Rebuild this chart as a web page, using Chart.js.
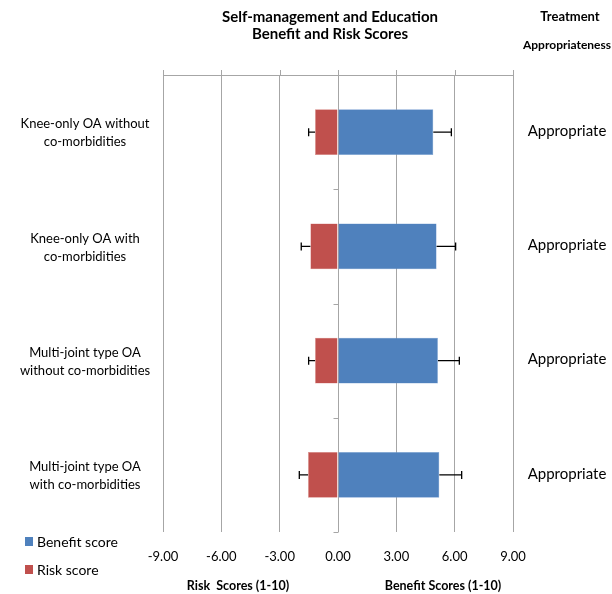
<!DOCTYPE html>
<html>
<head>
<meta charset="utf-8">
<script src="https://cdn.jsdelivr.net/npm/chart.js@4.4.1/dist/chart.umd.min.js"></script>
<style>
  html, body { margin: 0; padding: 0; background: #fff; }
  #wrap { width: 612px; height: 594px; }
</style>
</head>
<body>
<div id="wrap"><canvas id="chart" width="612" height="594"></canvas></div>
<script>
// data
const categories = [
  ['Knee-only OA without', 'co-morbidities'],
  ['Knee-only OA with', 'co-morbidities'],
  ['Multi-joint type OA', 'without co-morbidities'],
  ['Multi-joint type OA', 'with co-morbidities']
];
const benefitScores = [4.90, 5.07, 5.14, 5.21];
const benefitErrors = [0.93, 0.98, 1.10, 1.15];
const riskScores = [-1.18, -1.42, -1.18, -1.54];
const riskErrors = [0.33, 0.47, 0.33, 0.45];
const appropriateness = ['Appropriate', 'Appropriate', 'Appropriate', 'Appropriate'];
const xTicks = [-9, -6, -3, 0, 3, 6, 9];

const FONT = 'Lato, "Open Sans", sans-serif';
const gridColor = '#a6a6a6';

// error bars + all the loose text around the plot
const extras = {
  id: 'extras',
  afterDatasetsDraw(chart) {
    const { ctx, chartArea, scales } = chart;
    const x = scales.x, y = scales.y;
    ctx.save();

    // error bars
    ctx.strokeStyle = '#000';
    ctx.lineWidth = 1.3;
    const drawErr = (from, to, yc) => {
      const a = x.getPixelForValue(from), b = x.getPixelForValue(to);
      ctx.beginPath();
      ctx.moveTo(a, yc); ctx.lineTo(b, yc);
      ctx.moveTo(b, yc - 4); ctx.lineTo(b, yc + 4);
      ctx.stroke();
    };
    categories.forEach((c, i) => {
      const yc = y.getPixelForValue(i);
      drawErr(benefitScores[i], benefitScores[i] + benefitErrors[i], yc);
      drawErr(riskScores[i], riskScores[i] - riskErrors[i], yc);
    });

    // top line with little ticks above it
    ctx.strokeStyle = gridColor;
    ctx.lineWidth = 1;
    ctx.beginPath();
    ctx.moveTo(chartArea.left, chartArea.top + 0.5);
    ctx.lineTo(chartArea.right, chartArea.top + 0.5);
    xTicks.forEach(v => {
      const px = Math.round(x.getPixelForValue(v)) + 0.5;
      ctx.moveTo(px, chartArea.top - 5);
      ctx.lineTo(px, chartArea.top);
    });
    // category ticks on the zero axis
    const x0 = Math.round(x.getPixelForValue(0)) + 0.5;
    const step = y.getPixelForValue(1) - y.getPixelForValue(0);
    for (let i = 0; i < categories.length; i++) {
      const yb = Math.round(y.getPixelForValue(i) + step / 2) + 0.5;
      ctx.moveTo(x0 - 5, yb);
      ctx.lineTo(x0, yb);
    }
    ctx.stroke();

    // category labels
    ctx.fillStyle = '#000';
    ctx.textAlign = 'center';
    ctx.textBaseline = 'middle';
    ctx.font = '13px ' + FONT;
    categories.forEach((lines, i) => {
      const yc = y.getPixelForValue(i);
      lines.forEach((t, k) => ctx.fillText(t, 85, yc - 8 + k * 18));
    });

    // appropriateness column
    ctx.font = '15px ' + FONT;
    appropriateness.forEach((t, i) => ctx.fillText(t, 567, y.getPixelForValue(i) - 1));

    // titles
    ctx.font = 'bold 15px ' + FONT;
    ctx.fillText('Self-management and Education', 330, 17);
    ctx.fillText('Benefit and Risk Scores', 330, 34);
    ctx.font = 'bold 13px ' + FONT;
    ctx.fillText('Treatment', 570, 17);
    ctx.font = 'bold 12px ' + FONT;
    ctx.fillText('Appropriateness', 567, 45);

    // axis titles
    ctx.font = 'bold 12.5px ' + FONT;
    ctx.fillText('Risk  Scores (1-10)', 238, 586);
    ctx.fillText('Benefit Scores (1-10)', 443, 586);

    // legend
    ctx.textAlign = 'left';
    ctx.font = '14px ' + FONT;
    [['Benefit score', '#4F81BD', 542], ['Risk score', '#C0504D', 570]].forEach(([t, col, ly]) => {
      ctx.fillStyle = col;
      ctx.fillRect(25, ly - 5, 8, 9);
      ctx.fillStyle = '#000';
      ctx.fillText(t, 37, ly);
    });
    ctx.restore();
  }
};

new Chart(document.getElementById('chart'), {
  type: 'bar',
  data: {
    labels: categories,
    datasets: [
      { label: 'Benefit score', data: benefitScores, backgroundColor: '#4F81BD', borderColor: '#7da3d4', borderWidth: 0.5 },
      { label: 'Risk score', data: riskScores, backgroundColor: '#C0504D', borderColor: '#d98886', borderWidth: 0.5 }
    ]
  },
  options: {
    indexAxis: 'y',
    responsive: false,
    animation: false,
    layout: { padding: { top: 75, left: 163, right: 99, bottom: 0 } },
    plugins: {
      legend: { display: false },
      tooltip: { enabled: false },
      title: { display: false }
    },
    datasets: { bar: { barPercentage: 0.4, categoryPercentage: 1 } },
    scales: {
      x: {
        min: -9, max: 9,
        stacked: true,
        afterBuildTicks: s => { s.ticks = xTicks.map(v => ({ value: v })); },
        afterFit: s => { s.height = 62; },
        grid: { color: gridColor, drawTicks: false, lineWidth: 1 },
        border: { display: false },
        ticks: {
          padding: 17,
          color: '#000',
          font: { family: FONT, size: 13 },
          callback: v => Number(v).toFixed(2)
        }
      },
      y: {
        stacked: true,
        display: false
      }
    }
  },
  plugins: [extras]
});
</script>
</body>
</html>
